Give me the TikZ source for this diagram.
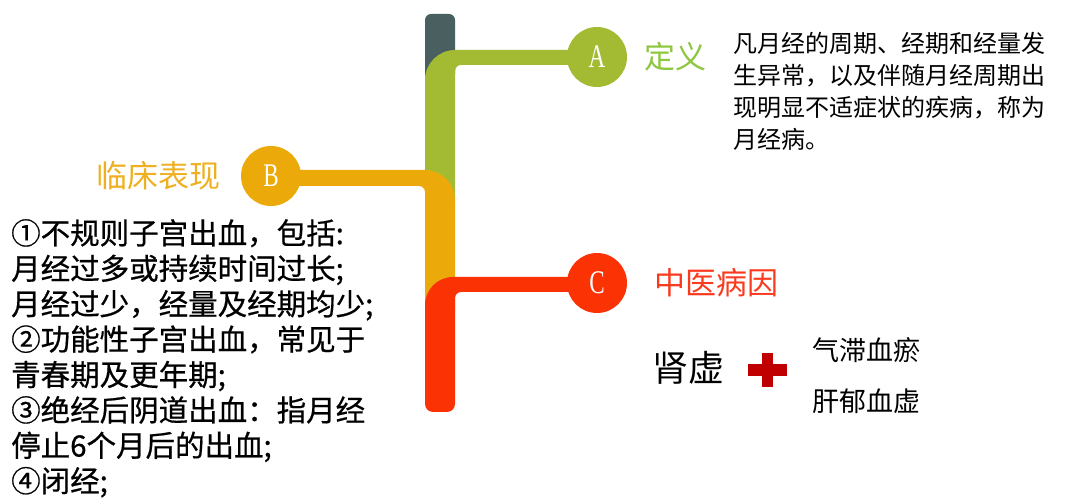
\documentclass[tikz,border=0pt]{standalone}
\usepackage{fontspec}
\usetikzlibrary{positioning}
\newfontfamily\cjk{Noto Sans CJK SC}
\newfontfamily\cjkb[FakeBold=0.6]{Noto Sans CJK SC}
\newfontfamily\tagfont{Liberation Serif}
\definecolor{stem}{HTML}{4A5F60}
\definecolor{grn}{HTML}{A3BA33}
\definecolor{grntxt}{HTML}{8DC63F}
\definecolor{org}{HTML}{EBAA0A}
\definecolor{orgtxt}{HTML}{EEB021}
\definecolor{rd}{HTML}{FA3204}
\definecolor{rdtxt}{HTML}{FA3A1E}
\definecolor{cross}{HTML}{C00000}
\newcommand{\balltag}[1]{\raisebox{-3pt}{\scalebox{0.7}[1]{#1}}}
\begin{document}
\begin{tikzpicture}[
    x=1pt, y=1pt,
    every node/.style={inner sep=0pt},
    ball/.style={circle, minimum size=60pt, text=white, font=\tagfont\fontsize{33}{33}\selectfont},
    title/.style={font=\cjk\fontsize{31}{31}\selectfont},
    body/.style={anchor=north west, align=left}
]
\useasboundingbox (0,0) rectangle (1080,501);

% stem edges (pt): left | right
\def\sl{425}
\def\sr{455}

% grey top of the stem
\fill[stem, rounded corners=6pt] (\sl,421) -- (\sl,487) -- (\sr,487) -- (\sr,421) -- cycle;

% branch A (green)
\fill[grn] (\sl,300) -- (\sl,421) arc[start angle=180, end angle=90, radius=30]
    -- (597,451) -- (597,436) -- (461,436) arc[start angle=90, end angle=180, radius=6]
    -- (\sr,300) -- cycle;

% branch B (orange)
\fill[org] (271,331) -- (\sl,331) arc[start angle=90, end angle=0, radius=30]
    -- (\sr,190) -- (\sl,190) -- (\sl,309) arc[start angle=0, end angle=90, radius=6]
    -- (271,315) -- cycle;

% branch C (red)
\fill[rd] (\sl,97) -- (\sl,196) arc[start angle=180, end angle=90, radius=28]
    -- (597,224) -- (597,209) -- (461,209) arc[start angle=90, end angle=180, radius=6]
    -- (\sr,97) arc[start angle=0, end angle=-90, radius=8]
    -- (433,89) arc[start angle=270, end angle=180, radius=8] -- cycle;

% branch balls
\node[ball, fill=grn] (A) at (597,444) {\balltag{A}};
\node[ball, fill=org] (B) at (271,325) {\balltag{B}};
\node[ball, fill=rd]  (C) at (597,218) {\balltag{C}};

% titles
\node[title, text=grntxt, right=17pt of A] (defT) {定义};
\node[title, text=orgtxt, left=20pt of B]  (symT) {临床表现};
\node[title, text=rdtxt,  right=27pt of C] (causeT) {中医病因};

% definition text
\node[body, font=\cjk\fontsize{24}{32}\selectfont] (defX) at (733,469)
    {凡月经的周期、经期和经量发\\生异常，以及伴随月经周期出\\现明显不适症状的疾病，称为\\月经病。};

% symptoms text
\node[body, font=\cjkb\fontsize{29.5}{35.4}\selectfont] (symX) at (11,282)
    {①不规则子宫出血，包括:\\月经过多或持续时间过长;\\月经过少，经量及经期均少;\\②功能性子宫出血，常见于\\青春期及更年期;\\③绝经后阴道出血：指月经\\停止6个月后的出血;\\④闭经;};

% causes
\node[font=\cjk\fontsize{36}{36}\selectfont] (kid) at (688,133) {肾虚};
\node[fill=cross, minimum width=39pt, minimum height=12pt] (plusH) at (767.5,131) {};
\node[fill=cross, minimum width=11pt, minimum height=34pt] (plusV) at (767.5,131) {};
\node[font=\cjk\fontsize{27}{27}\selectfont] (qi)  at (866,151) {气滞血瘀};
\node[font=\cjk\fontsize{27}{27}\selectfont] (gan) at (866,100) {肝郁血虚};

\end{tikzpicture}
\end{document}
